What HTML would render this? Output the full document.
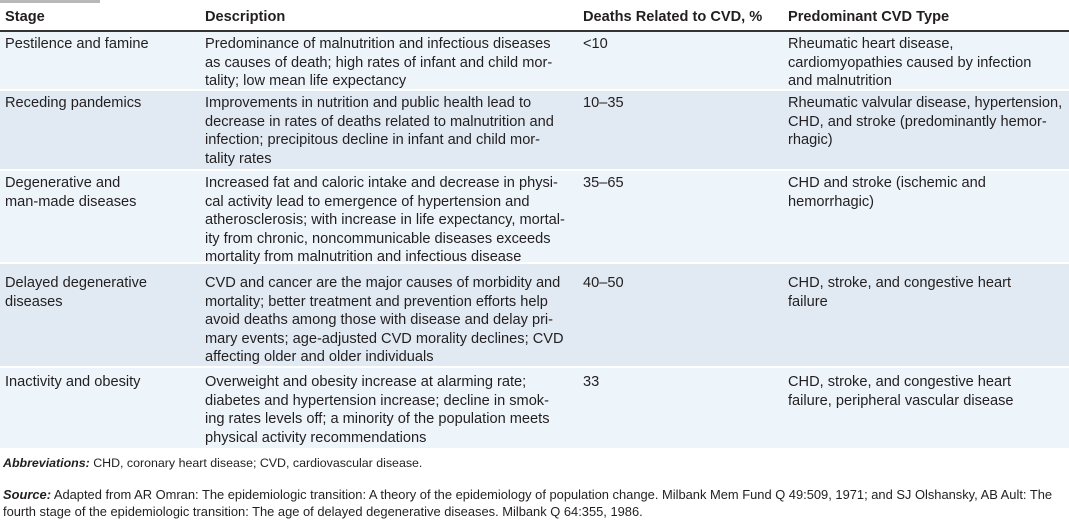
<!DOCTYPE html>
<html><head><meta charset="utf-8"><style>
body{margin:0;width:1069px;height:517px;background:#fff;font-family:"Liberation Sans",sans-serif;color:#231f20;position:relative;overflow:hidden}
.r{position:absolute;left:0;width:1069px}
.c{position:absolute;font-size:14.6px;line-height:18.6px;white-space:nowrap}
.h{font-weight:bold;font-size:14.6px}
.a{background:#edf4fa}.b{background:#e1eaf3}
.n{position:absolute;left:3px;font-size:12.6px;white-space:nowrap;line-height:17px}
</style></head><body>
<div style="position:absolute;left:0;top:0;width:100px;height:3px;background:#b8b8b8"></div>
<div class="r" style="top:4px;height:26px;border-bottom:2px solid #333">
<div class="c h" style="left:5px;top:4px">Stage</div>
<div class="c h" style="left:205px;top:4px">Description</div>
<div class="c h" style="left:583px;top:4px">Deaths Related to CVD, %</div>
<div class="c h" style="left:788px;top:4px">Predominant CVD Type</div>
</div>
<div class="r a" style="top:32px;height:57px">
<div class="c" style="left:5px;top:3px">Pestilence and famine</div>
<div class="c" style="left:205px;top:3px">Predominance of malnutrition and infectious diseases<br>as causes of death; high rates of infant and child mor-<br>tality; low mean life expectancy</div>
<div class="c" style="left:583px;top:3px">&lt;10</div>
<div class="c" style="left:788px;top:3px">Rheumatic heart disease,<br>cardiomyopathies caused by infection<br>and malnutrition</div>
</div>
<div class="r b" style="top:91px;height:78px">
<div class="c" style="left:5px;top:3px">Receding pandemics</div>
<div class="c" style="left:205px;top:3px">Improvements in nutrition and public health lead to<br>decrease in rates of deaths related to malnutrition and<br>infection; precipitous decline in infant and child mor-<br>tality rates</div>
<div class="c" style="left:583px;top:3px">10–35</div>
<div class="c" style="left:788px;top:3px">Rheumatic valvular disease, hypertension,<br>CHD, and stroke (predominantly hemor-<br>rhagic)</div>
</div>
<div class="r a" style="top:171px;height:91px">
<div class="c" style="left:5px;top:3px">Degenerative and<br>man-made diseases</div>
<div class="c" style="left:205px;top:3px">Increased fat and caloric intake and decrease in physi-<br>cal activity lead to emergence of hypertension and<br>atherosclerosis; with increase in life expectancy, mortal-<br>ity from chronic, noncommunicable diseases exceeds<br>mortality from malnutrition and infectious disease</div>
<div class="c" style="left:583px;top:3px">35–65</div>
<div class="c" style="left:788px;top:3px">CHD and stroke (ischemic and<br>hemorrhagic)</div>
</div>
<div class="r b" style="top:264px;height:102px">
<div class="c" style="left:5px;top:10px">Delayed degenerative<br>diseases</div>
<div class="c" style="left:205px;top:10px">CVD and cancer are the major causes of morbidity and<br>mortality; better treatment and prevention efforts help<br>avoid deaths among those with disease and delay pri-<br>mary events; age-adjusted CVD morality declines; CVD<br>affecting older and older individuals</div>
<div class="c" style="left:583px;top:10px">40–50</div>
<div class="c" style="left:788px;top:10px">CHD, stroke, and congestive heart<br>failure</div>
</div>
<div class="r a" style="top:368px;height:80px">
<div class="c" style="left:5px;top:5px">Inactivity and obesity</div>
<div class="c" style="left:205px;top:5px">Overweight and obesity increase at alarming rate;<br>diabetes and hypertension increase; decline in smok-<br>ing rates levels off; a minority of the population meets<br>physical activity recommendations</div>
<div class="c" style="left:583px;top:5px">33</div>
<div class="c" style="left:788px;top:5px">CHD, stroke, and congestive heart<br>failure, peripheral vascular disease</div>
</div>
<div class="n" style="top:455px;font-size:12.4px"><b><i>Abbreviations:</i></b> CHD, coronary heart disease; CVD, cardiovascular disease.</div>
<div class="n" style="top:486px;font-size:12.9px"><b><i>Source:</i></b> Adapted from AR Omran: The epidemiologic transition: A theory of the epidemiology of population change. Milbank Mem Fund Q 49:509, 1971; and SJ Olshansky, AB Ault: The<br>fourth stage of the epidemiologic transition: The age of delayed degenerative diseases. Milbank Q 64:355, 1986.</div>
</body></html>
